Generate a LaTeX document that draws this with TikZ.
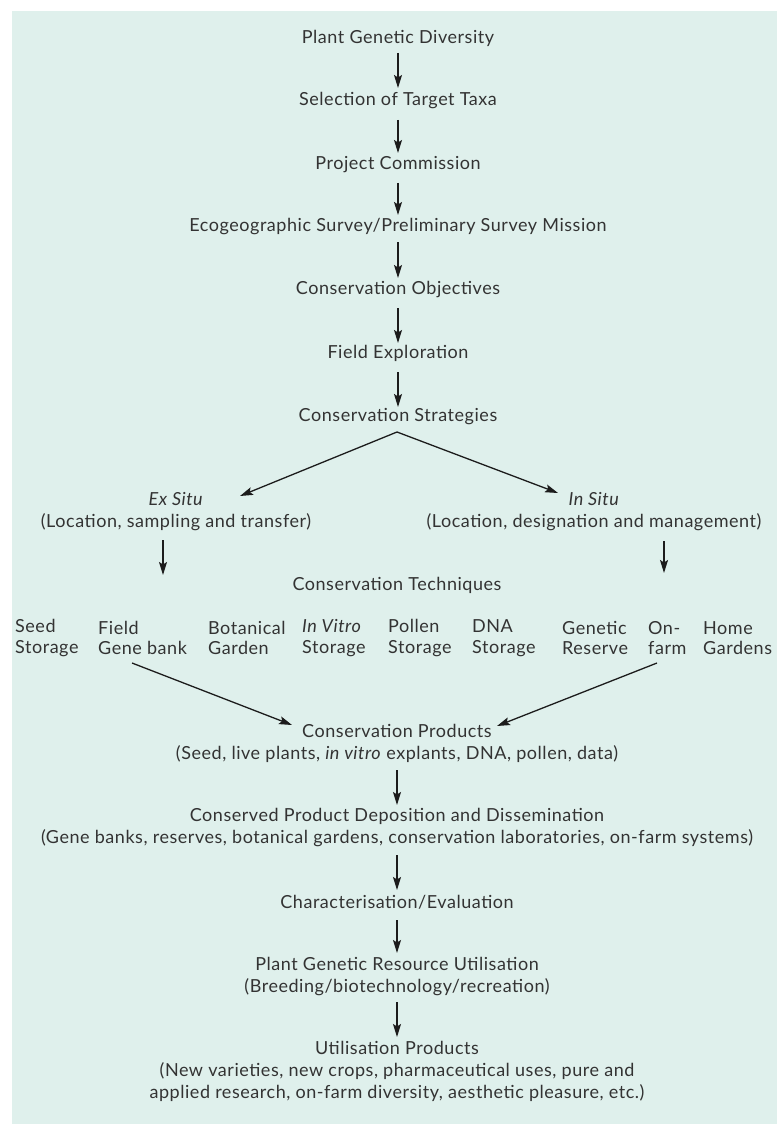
\documentclass[tikz,border=0pt]{standalone}
\usepackage{fontspec}
\setmainfont{Lato}[LetterSpace=3]
\usetikzlibrary{arrows.meta,calc}
\definecolor{panel}{HTML}{DFF0EC}
\definecolor{ink}{HTML}{333333}
\definecolor{arrowink}{HTML}{1C1C1C}
\tikzset{
  lbl/.style={font=\fontsize{18}{22}\selectfont, text=ink, align=center, inner sep=0pt},
  tech/.style={font=\fontsize{18}{20.5}\selectfont, text=ink, align=left, inner sep=0pt, anchor=west},
  arr/.style={draw=arrowink, line width=1.3pt, -{Stealth[length=13pt,width=8pt,inset=2.5pt]}},
}
\begin{document}
\begin{tikzpicture}[x=1pt,y=-1pt]
\useasboundingbox (0,0) rectangle (777,1126);
\fill[white] (0,0) rectangle (777,1126);
\fill[panel] (12,11) rectangle (777,1124);

\node[lbl] (pgd) at (398,38) {Plant Genetic Diversity};
\node[lbl] (stt) at (398,101) {Selection of Target Taxa};
\node[lbl] (pc)  at (398,165) {Project Commission};
\node[lbl] (eco) at (398,227) {Ecogeographic Survey/Preliminary Survey Mission};
\node[lbl] (co)  at (398,290) {Conservation Objectives};
\node[lbl] (fe)  at (398,353) {Field Exploration};
\node[lbl] (cs)  at (398,417) {Conservation Strategies};

\node[lbl] (exs) at (176,512) {\textit{Ex Situ}\\(Location, sampling and transfer)};
\node[lbl] (ins) at (594,512) {\textit{In Situ}\\(Location, designation and management)};

\node[lbl] (ct) at (397,585) {Conservation Techniques};

\node[tech] (seed) at (15,638)  {Seed\\Storage};
\node[tech] (fgb)  at (98,638)  {Field\\Gene bank};
\node[tech] (bot)  at (208,638) {Botanical\\Garden};
\node[tech] (ivs)  at (302,638) {\textit{In Vitro}\\Storage};
\node[tech] (pol)  at (388,638) {Pollen\\Storage};
\node[tech] (dna)  at (472,638) {DNA\\Storage};
\node[tech] (gr)   at (562,638) {Genetic\\Reserve};
\node[tech] (onf)  at (648,638) {On-\\farm};
\node[tech] (home) at (703,638) {Home\\Gardens};

\node[lbl] (cp) at (397,743.5) {Conservation Products\\(Seed, live plants, \textit{in vitro} explants, DNA, pollen, data)};
\node[lbl] (dep) at (397,828) {Conserved Product Deposition and Dissemination\\(Gene banks, reserves, botanical gardens, conservation laboratories, on-farm systems)};
\node[lbl] (chr) at (397,902) {Characterisation/Evaluation};
\node[lbl] (pgru) at (397,976.5) {Plant Genetic Resource Utilisation\\(Breeding/biotechnology/recreation)};
\node[lbl] (up) at (397,1071) {Utilisation Products\\(New varieties, new crops, pharmaceutical uses, pure and\\applied research, on-farm diversity, aesthetic pleasure, etc.)};

\coordinate (exsEnd) at (163,575);
\coordinate (insEnd) at (664,573);
\coordinate (apex) at ($(cs.center)+(-1,15)$);

\draw[arr] ($(pgd.center)+(0,15)$) -- ($(stt.center)+(0,-13)$);
\draw[arr] ($(stt.center)+(0,19)$) -- ($(pc.center)+(0,-12)$);
\draw[arr] ($(pc.center)+(0,18)$) -- ($(eco.center)+(0,-12)$);
\draw[arr] ($(eco.center)+(0,15)$) -- ($(co.center)+(0,-12)$);
\draw[arr] ($(co.center)+(0,18)$) -- ($(fe.center)+(0,-10)$);
\draw[arr] ($(fe.center)+(0,19)$) -- ($(cs.center)+(0,-10)$);

\draw[arr] (apex) -- ($(exs.center)+(64,-16)$);
\draw[arr] (apex) -- ($(ins.center)+(-36,-19)$);

\draw[arr] ($(exs.center)+(-13,28)$) -- (exsEnd);
\draw[arr] ($(ins.center)+(70,29)$) -- (insEnd);

\draw[arr] ($(fgb.west)+(34,25)$) -- ($(cp.center)+(-105,-18.5)$);
\draw[arr] ($(onf.west)+(9,25)$) -- ($(cp.center)+(100,-17.5)$);

\draw[arr] ($(cp.center)+(0,26.5)$) -- ($(dep.center)+(0,-23)$);
\draw[arr] ($(dep.center)+(0,27)$) -- ($(chr.center)+(0,-12)$);
\draw[arr] ($(chr.center)+(0,18)$) -- ($(pgru.center)+(0,-23.5)$);
\draw[arr] ($(pgru.center)+(0,25.5)$) -- ($(up.center)+(0,-34)$);
\end{tikzpicture}
\end{document}
